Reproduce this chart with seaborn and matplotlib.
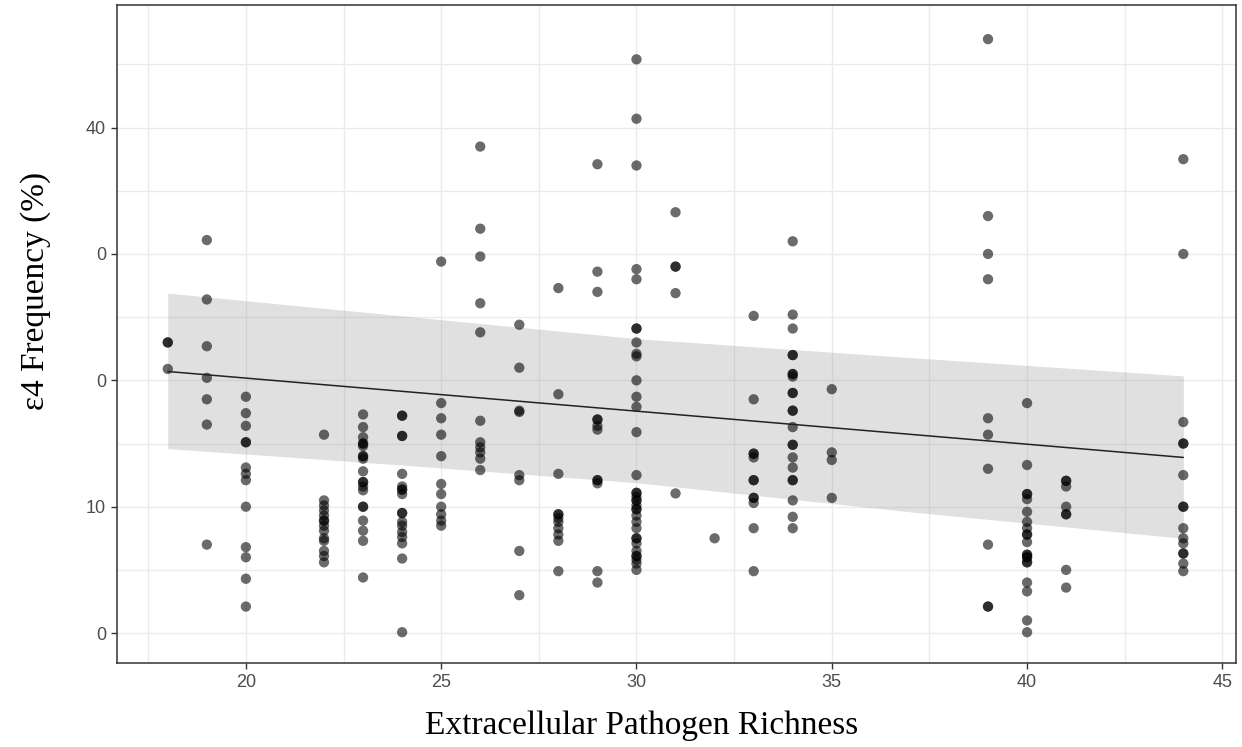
import pandas as pd
import matplotlib.pyplot as plt
import seaborn as sns

# Frequencia do alelo e4 por riqueza de patogenos extracelulares
y_18 = [23.0, 23.0, 20.9]
y_19 = [31.1, 26.4, 22.7, 20.2, 18.5, 16.5, 7.0]
y_20 = [18.7, 17.4, 16.4, 15.1, 15.1, 13.1, 12.6, 12.1, 10.0, 6.8, 6.0, 4.3, 2.1]
y_22 = [15.7, 10.5, 10.1, 9.7, 9.3, 8.9, 8.9, 8.5, 8.1, 7.5, 7.3, 6.5, 6.1, 5.6]
y_23 = [17.3, 16.3, 15.5, 15.0, 15.0, 14.8, 14.0, 14.0, 13.8, 12.8, 11.95, 11.95,
        11.6, 11.3, 10.0, 10.0, 8.9, 8.1, 7.3, 4.4]
y_24 = [17.2, 17.2, 15.6, 15.6, 12.6, 11.6, 11.35, 11.35, 11.0, 9.5, 9.5, 8.8,
        8.5, 8.0, 7.6, 7.1, 5.9, 0.07]
y_25 = [29.4, 18.2, 17.0, 15.7, 14.0, 11.8, 11.0, 10.0, 9.4, 8.9, 8.5]
y_26 = [38.5, 32.0, 29.8, 26.1, 23.8, 16.8, 15.1, 14.7, 14.3, 13.8, 12.9]
y_27 = [24.4, 21.0, 17.6, 17.5, 12.5, 12.1, 6.5, 3.0]
y_28 = [27.3, 18.9, 12.6, 9.4, 9.4, 9.1, 8.8, 8.3, 7.8, 7.3, 4.9]
y_29 = [37.1, 28.6, 27.0, 16.9, 16.9, 16.4, 16.1, 12.1, 12.1, 11.85, 4.9, 4.0]
y_30 = [45.4, 40.7, 37.0, 28.8, 28.0, 24.1, 24.1, 23.0, 22.1, 21.9, 20.0, 18.7,
        17.9, 15.9, 12.5, 11.1, 11.1, 10.8, 10.5, 10.5, 10.1, 9.8, 9.8, 9.3, 8.8,
        8.3, 7.5, 7.5, 7.1, 6.5, 6.1, 6.1, 5.8, 5.5, 5.0]
y_31 = [33.3, 29.0, 29.0, 26.9, 11.05]
y_32 = [7.5]
y_33 = [25.1, 18.5, 14.2, 14.2, 13.9, 12.1, 12.1, 10.7, 10.7, 10.3, 8.3, 4.9]
y_34 = [31.0, 25.2, 24.1, 22.0, 22.0, 20.5, 20.5, 20.3, 19.0, 19.0, 17.6, 17.6,
        16.3, 14.9, 14.9, 13.9, 13.1, 12.1, 12.1, 10.5, 9.2, 8.3]
y_35 = [19.3, 14.3, 13.7, 10.7]
y_39 = [47.0, 33.0, 30.0, 28.0, 17.0, 15.7, 13.0, 7.0, 2.1, 2.1]
y_40 = [18.2, 13.3, 11.0, 11.0, 10.6, 9.6, 8.8, 8.3, 7.8, 7.8, 7.2, 6.2, 6.2,
        6.0, 6.0, 5.6, 5.6, 4.0, 3.3, 1.0, 0.07]
y_41 = [12.05, 12.05, 11.6, 10.0, 9.4, 9.4, 5.0, 3.6]
y_44 = [37.5, 30.0, 16.7, 15.0, 15.0, 12.5, 10.0, 10.0, 8.3, 7.5, 7.1, 6.3, 6.3,
        5.5, 4.9]

columns = {18: y_18, 19: y_19, 20: y_20, 22: y_22, 23: y_23, 24: y_24, 25: y_25,
           26: y_26, 27: y_27, 28: y_28, 29: y_29, 30: y_30, 31: y_31, 32: y_32,
           33: y_33, 34: y_34, 35: y_35, 39: y_39, 40: y_40, 41: y_41, 44: y_44}

# reta ajustada e intervalo de confianca
fit_x = [18, 44]
fit_y = [20.7, 13.9]
band_x = [18, 24, 30, 37, 44]
band_upper = [26.9, 25.1, 23.3, 21.8, 20.35]
band_lower = [14.6, 13.3, 11.9, 9.6, 7.5]

y_ticks = [0, 10, 20, 30, 40]
y_tick_labels = ["0", "10", "0", "0", "40"]
x_ticks = [20, 25, 30, 35, 40, 45]


def main():
    rows = [(x, y) for x, ys in columns.items() for y in ys]
    df = pd.DataFrame(rows, columns=["richness", "freq"])

    sns.set_style("white")
    fig = plt.figure(figsize=(12.42, 7.47), dpi=100)
    ax = fig.add_axes([0.0942, 0.1124, 0.9010, 0.8809])

    # grade (major + minor) estilo theme_bw
    for v in [17.5, 20, 22.5, 25, 27.5, 30, 32.5, 35, 37.5, 40, 42.5, 45]:
        ax.axvline(v, color="#ebebeb", lw=1.0, zorder=0)
    for v in [0, 5, 10, 15, 20, 25, 30, 35, 40, 45]:
        ax.axhline(v, color="#ebebeb", lw=1.0, zorder=0)

    ax.fill_between(band_x, band_lower, band_upper, color="#999999",
                    alpha=0.3, lw=0, zorder=1)

    sns.scatterplot(data=df, x="richness", y="freq", ax=ax, color="black",
                    alpha=0.58, s=55, edgecolor="none", zorder=2, legend=False)

    sns.lineplot(x=fit_x, y=fit_y, ax=ax, color="#222222", lw=1.1, zorder=3)

    ax.set_xlim(16.7, 45.35)
    ax.set_ylim(-2.37, 49.7)
    ax.set_xticks(x_ticks)
    ax.set_yticks(y_ticks)
    ax.set_yticklabels(y_tick_labels)
    ax.tick_params(axis="both", labelsize=13, labelcolor="#4d4d4d",
                   color="#333333", length=4, width=1, direction="out",
                   bottom=True, left=True, pad=4)
    for lab in ax.get_xticklabels() + ax.get_yticklabels():
        lab.set_family("Liberation Sans")

    for sp in ax.spines.values():
        sp.set_color("#333333")
        sp.set_linewidth(1.1)

    ax.set_xlabel("Extracellular Pathogen Richness", family="Liberation Serif",
                  fontsize=24, color="black")
    ax.set_ylabel("ε4 Frequency (%)", family="Liberation Serif",
                  fontsize=24, color="black")
    ax.xaxis.label.set_va("center")
    ax.yaxis.label.set_va("center")
    ax.xaxis.set_label_coords(0.469, -0.0957)
    ax.yaxis.set_label_coords(-0.073, 0.565)

    fig.savefig("out.png", dpi=100)
    plt.close(fig)


if __name__ == "__main__":
    main()
